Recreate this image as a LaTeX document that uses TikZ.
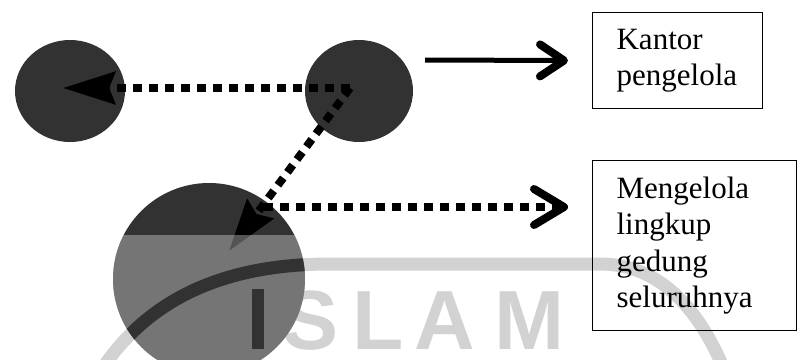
\documentclass[tikz,border=0pt]{standalone}
\usepackage{fontspec}
\setmainfont{Liberation Serif}
\newfontfamily\markfont{Liberation Sans}
\usetikzlibrary{shapes.geometric, arrows.meta, positioning}
\definecolor{blobgray}{RGB}{50,50,50}
\definecolor{marklight}{RGB}{210,210,210}

% faint watermark arc
\newcommand{\markarc}[1]{%
  \draw[line width=13pt, #1] (100,372) .. controls (150,295) and (230,264) .. (330,264)
    -- (600,264) .. controls (660,264) and (700,310) .. (725,372);
}

\begin{document}
\begin{tikzpicture}[
    x=1pt, y=-1pt,
    blob/.style={ellipse, fill=blobgray, inner sep=0pt},
    infobox/.style={rectangle, draw, line width=1.2pt, align=left, inner xsep=24pt, font=\fontsize{31}{36.5}\selectfont},
    markletter/.style={anchor=base, inner sep=0pt, text=marklight, font=\markfont\bfseries\fontsize{84}{84}\selectfont},
    dotline/.style={line width=8pt, dash pattern=on 9pt off 7pt},
    headin/.style={-{Stealth[length=52pt, width=32pt, inset=6pt]}},
    headout/.style={-{Straight Barb[length=30pt, width=36pt, line width=8pt, round]}},
    solidarrow/.style={line width=5pt, -{Straight Barb[length=24pt, width=32pt, line width=8pt, round]}}
]
\useasboundingbox (0,0) rectangle (797,359);

% Watermark
\markarc{marklight}
\foreach \ch/\xx in {I/258, S/311, L/378, A/445, M/529}
  \node[markletter] (wm\ch) at (\xx,349) {\ch};

% Circles
\node[blob, minimum width=110pt, minimum height=102pt] (leftdot) at (70,91) {};
\node[blob, minimum width=108pt, minimum height=102pt] (rightdot) at (359,91) {};
\node[blob, minimum size=192pt] (bigdot) at (209,279) {};

% Boxes
\node[infobox, text width=122pt, minimum height=96pt, anchor=north west] (kantor) at (592,12) {Kantor\\pengelola};
\node[infobox, text width=156pt, minimum height=170pt, anchor=north west] (lingkup) at (592,160) {Mengelola\\lingkup\\gedung\\seluruhnya};

% Connector ends
\coordinate (hub) at (350,88);
\coordinate (lefttip) at (63,88);
\coordinate (bigtip) at (229,251);
\coordinate (junction) at (264,207);
\coordinate (solidstart) at (425,60);

% Arrows
\draw[dotline, headin] (hub) -- (lefttip);
\draw[dotline, headin] (hub) -- (bigtip);
\draw[dotline, headout, shorten >=24pt] (junction) -- (junction -| lingkup.west);
\draw[solidarrow, shorten >=24pt] (solidstart) -- (kantor.west);

% Watermark over the big circle
\begin{scope}
  \clip (bigdot.center) circle (96);
  \clip (0,235) rectangle (797,380);
  \fill[white, opacity=0.33] (0,235) rectangle (797,380);
  \markarc{blobgray}
  \fill[blobgray] (252,289) rectangle (264,349);
\end{scope}

\end{tikzpicture}
\end{document}
